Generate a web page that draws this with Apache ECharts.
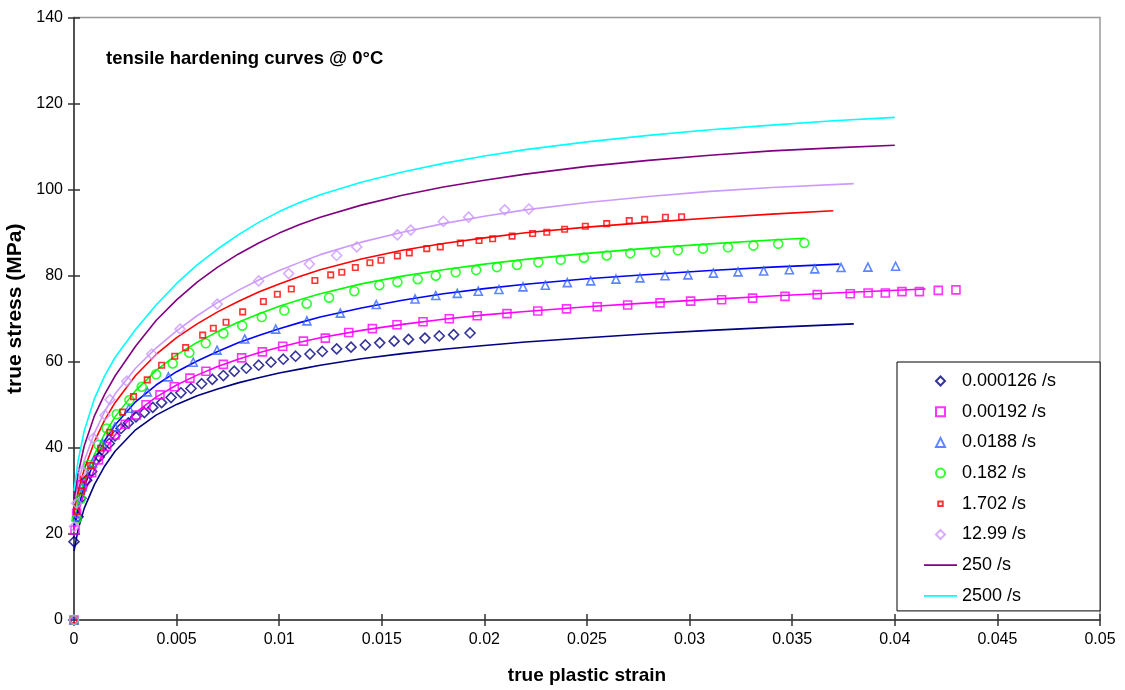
<!DOCTYPE html>
<html>
<head>
<meta charset="utf-8">
<script src="https://cdn.jsdelivr.net/npm/echarts@6/dist/echarts.min.js"></script>
<style>
html,body{margin:0;padding:0;background:#fff;}
#chart{width:1125px;height:690px;}
</style>
</head>
<body>
<div id="chart"></div>
<script>
// ---- axes ----
const xTicks = { min: 0, max: 0.05, step: 0.005 };
const yTicks = { min: 0, max: 140, step: 20 };
const legendNames = ['0.000126 /s','0.00192 /s','0.0188 /s','0.182 /s','1.702 /s','12.99 /s','250 /s','2500 /s'];

// ---- measured points [true plastic strain, true stress MPa] ----
const pts000126 = [[0,0],[0,18.2],[0.0002,24],[0.00034,28.3],[0.00062,32.5],[0.00086,34.5],[0.00123,37.9],[0.00143,39.1],[0.00172,41.0],[0.0020,42.8],[0.00229,44.5],[0.00265,45.8],[0.00302,47.2],[0.00343,48.2],[0.00384,49.4],[0.00427,50.5],[0.00473,51.7],[0.00521,52.8],[0.0057,53.8],[0.00622,54.9],[0.00674,55.9],[0.00728,56.8],[0.00781,57.8],[0.0084,58.5],[0.009,59.2],[0.0096,59.9],[0.0102,60.6],[0.0108,61.3],[0.0115,61.8],[0.0121,62.4],[0.0128,63.0],[0.0135,63.4],[0.0142,63.9],[0.0149,64.4],[0.0156,64.8],[0.0163,65.2],[0.0171,65.5],[0.0178,66.0],[0.0185,66.3],[0.0193,66.7]];
const pts00192 = [[0,0],[0.00005,20.9],[0.00013,24.8],[0.00037,31.4],[0.00086,34.2],[0.00119,37.2],[0.00159,40.3],[0.0020,43.0],[0.0025,45.5],[0.00302,47.6],[0.00351,50.0],[0.00419,52.3],[0.00489,54.2],[0.00565,56.2],[0.00643,57.8],[0.00728,59.4],[0.00817,60.9],[0.00918,62.3],[0.01017,63.6],[0.01118,64.8],[0.01225,65.5],[0.01339,66.8],[0.01454,67.7],[0.01574,68.6],[0.01701,69.3],[0.01829,70.0],[0.01965,70.7],[0.0211,71.2],[0.0226,71.8],[0.0240,72.3],[0.0255,72.8],[0.02698,73.2],[0.02856,73.7],[0.03005,74.1],[0.03156,74.4],[0.03307,74.8],[0.03465,75.2],[0.03622,75.6],[0.03783,75.8],[0.0387,76.0],[0.03954,76.0],[0.04035,76.3],[0.0412,76.3],[0.04212,76.6],[0.04298,76.7]];
const pts0188 = [[0,0],[0.0001,24],[0.0004,31],[0.0009,36.5],[0.0014,41],[0.002,44.9],[0.00268,49.2],[0.00357,53.0],[0.0046,56.5],[0.00581,59.9],[0.00697,62.7],[0.00832,65.3],[0.00983,67.6],[0.01135,69.5],[0.01298,71.3],[0.01473,73.3],[0.01662,74.6],[0.01763,75.4],[0.01868,75.9],[0.0197,76.4],[0.02071,76.8],[0.02188,77.4],[0.02297,77.8],[0.02404,78.4],[0.02518,78.8],[0.02641,79.2],[0.02758,79.5],[0.0288,80.0],[0.02992,80.2],[0.03116,80.6],[0.03236,80.9],[0.03361,81.1],[0.03486,81.4],[0.0361,81.6],[0.03738,81.9],[0.03869,82.0],[0.04004,82.2]];
const pts182 = [[0,0],[0.00013,23.5],[0.00033,28.1],[0.0007,36],[0.00119,40.7],[0.00159,44.5],[0.00208,47.8],[0.0027,51.1],[0.0033,54.2],[0.004,57.1],[0.00481,59.6],[0.00562,62.1],[0.00642,64.3],[0.00728,66.6],[0.0082,68.4],[0.00915,70.4],[0.01025,71.9],[0.01134,73.5],[0.01243,74.9],[0.01366,76.4],[0.01488,77.8],[0.01576,78.5],[0.01675,79.2],[0.01763,80.0],[0.0186,80.8],[0.0196,81.3],[0.02061,82.0],[0.02159,82.5],[0.02263,83.1],[0.02372,83.7],[0.02485,84.2],[0.02596,84.7],[0.02711,85.2],[0.02833,85.5],[0.02943,85.9],[0.03065,86.3],[0.03187,86.6],[0.03311,87.0],[0.03432,87.4],[0.03559,87.6]];
const pts1702 = [[0,0],[0.00013,25.2],[0.00037,30.0],[0.00045,32.7],[0.00081,35.9],[0.0013,39.9],[0.00175,43.6],[0.00237,48.3],[0.0029,51.9],[0.00357,55.8],[0.00427,59.2],[0.00491,61.3],[0.00544,63.3],[0.00627,66.2],[0.00679,67.8],[0.00741,69.2],[0.00822,71.6],[0.00923,74.0],[0.00991,75.7],[0.01059,76.9],[0.01174,78.9],[0.01251,80.2],[0.01305,80.8],[0.01371,81.9],[0.01442,83.0],[0.01496,83.6],[0.01576,84.6],[0.01634,85.3],[0.01719,86.3],[0.01785,86.7],[0.01883,87.6],[0.01974,88.2],[0.0204,88.6],[0.02135,89.2],[0.02235,89.8],[0.02304,90.1],[0.02391,90.8],[0.02492,91.5],[0.02596,92.1],[0.02706,92.8],[0.02781,93.1],[0.02882,93.6],[0.02961,93.7]];
const pts1299 = [[0,0],[0.00002,21.7],[0.00013,27.1],[0.0004,34.5],[0.00094,42.2],[0.00151,47.6],[0.00175,51.2],[0.00257,55.5],[0.00379,61.8],[0.00517,67.6],[0.00698,73.4],[0.009,78.8],[0.01046,80.5],[0.01147,82.7],[0.0128,84.7],[0.01378,86.7],[0.01576,89.5],[0.01641,90.6],[0.018,92.6],[0.01923,93.6],[0.02099,95.3],[0.02217,95.5]];

// ---- fitted hardening curves [strain, stress] ----
const fit000126 = [[0,16],[0.0002,21],[0.0005,26],[0.001,31.5],[0.0015,35.8],[0.002,39.2],[0.003,44.2],[0.004,47.6],[0.005,50.1],[0.006,52.1],[0.007,53.7],[0.008,55.1],[0.009,56.3],[0.010,57.4],[0.011,58.3],[0.012,59.2],[0.014,60.7],[0.016,61.9],[0.018,62.9],[0.020,63.8],[0.022,64.6],[0.025,65.6],[0.028,66.5],[0.031,67.3],[0.034,68.0],[0.038,68.8]];
const fit00192 = [[0,21],[0.0002,25],[0.0005,29.5],[0.001,35],[0.0015,39.5],[0.002,43.0],[0.003,48.2],[0.004,51.8],[0.005,54.6],[0.006,56.9],[0.007,58.9],[0.008,60.6],[0.009,62.1],[0.010,63.4],[0.011,64.55],[0.012,65.6],[0.014,67.3],[0.016,68.7],[0.018,69.9],[0.020,70.9],[0.022,71.7],[0.025,72.8],[0.028,73.7],[0.031,74.5],[0.034,75.3],[0.037,76.0],[0.0415,76.9]];
const fit0188 = [[0,22],[0.0002,26],[0.0005,31],[0.001,37],[0.0015,41.7],[0.002,45.3],[0.003,50.7],[0.004,54.6],[0.005,57.7],[0.006,60.2],[0.007,62.4],[0.008,64.4],[0.009,66.1],[0.010,67.7],[0.011,69.1],[0.012,70.4],[0.014,72.5],[0.016,74.3],[0.018,75.8],[0.020,77.0],[0.022,78.0],[0.025,79.3],[0.028,80.3],[0.031,81.2],[0.034,82.0],[0.0373,82.7]];
const fit182 = [[0,23],[0.0002,27.5],[0.0005,32.5],[0.001,38.5],[0.0015,43.3],[0.002,47.2],[0.003,53.3],[0.004,58.0],[0.005,61.6],[0.006,64.5],[0.007,67.0],[0.008,69.2],[0.009,71.1],[0.010,72.9],[0.011,74.4],[0.012,75.8],[0.014,78.1],[0.016,79.9],[0.018,81.4],[0.020,82.7],[0.022,83.8],[0.025,85.2],[0.028,86.4],[0.031,87.4],[0.034,88.3],[0.0356,88.7]];
const fit1702 = [[0,25],[0.0002,30],[0.0005,35],[0.001,41.5],[0.0015,46.5],[0.002,50.5],[0.003,56.8],[0.004,61.7],[0.005,65.6],[0.006,68.8],[0.007,71.6],[0.008,74.0],[0.009,76.2],[0.010,78.1],[0.011,79.8],[0.012,81.4],[0.014,83.9],[0.016,85.9],[0.018,87.5],[0.020,88.8],[0.022,90.0],[0.025,91.3],[0.028,92.4],[0.031,93.4],[0.034,94.3],[0.037,95.1]];
const fit1299 = [[0,27],[0.0002,32],[0.0005,37],[0.001,43.5],[0.0015,48.5],[0.002,52.5],[0.003,58.5],[0.004,63.2],[0.005,67.2],[0.006,70.7],[0.007,73.8],[0.008,76.6],[0.009,79.0],[0.010,81.2],[0.011,83.1],[0.012,84.9],[0.014,87.8],[0.016,90.1],[0.018,92.1],[0.020,93.8],[0.022,95.3],[0.025,97.0],[0.028,98.4],[0.031,99.6],[0.034,100.5],[0.038,101.4]];
const fit250 = [[0,28],[0.0002,34],[0.0005,40.5],[0.001,47.5],[0.0015,52.5],[0.002,56.7],[0.003,63.6],[0.004,69.6],[0.005,74.4],[0.006,78.5],[0.007,82.0],[0.008,85.0],[0.009,87.6],[0.010,89.9],[0.011,91.9],[0.012,93.6],[0.014,96.4],[0.016,98.7],[0.018,100.6],[0.020,102.2],[0.022,103.6],[0.025,105.4],[0.028,106.8],[0.031,108.0],[0.034,109.0],[0.037,109.7],[0.040,110.3]];
const fit2500 = [[0,30],[0.0002,37],[0.0005,44],[0.001,51.5],[0.0015,56.8],[0.002,61.0],[0.003,67.5],[0.004,73.2],[0.005,78.2],[0.006,82.5],[0.007,86.2],[0.008,89.5],[0.009,92.4],[0.010,94.9],[0.011,97.0],[0.012,98.8],[0.014,101.7],[0.016,104.1],[0.018,106.1],[0.020,107.8],[0.022,109.3],[0.025,111.1],[0.028,112.6],[0.031,113.9],[0.034,115.0],[0.037,116.0],[0.040,116.8]];

// ---- legend icons ----
const ICON = {
  diamond: 'path://M5,0L10,5L5,10L0,5Z',
  square: 'path://M0,0L10,0L10,10L0,10Z',
  smallSquare: 'path://M0,0L0,0M16,16L16,16M4,4L12,4L12,12L4,12Z',
  triangle: 'path://M5,0L10,10L0,10Z',
  circle: 'path://M0,5A5,5,0,1,0,10,5A5,5,0,1,0,0,5Z',
  line: 'path://M0,0L33,0L33,1.8L0,1.8Z'
};
const legendIcons = [ICON.diamond, ICON.square, ICON.triangle, ICON.circle, ICON.smallSquare, ICON.diamond, ICON.line, ICON.line];

// ---- chart ----
const FONT = '"Liberation Sans", Arial, sans-serif';
const chart = echarts.init(document.getElementById('chart'), null, {renderer: 'canvas'});

function scatter(name, data, symbol, size, color) {
  return {
    name, type: 'scatter', data, symbol, symbolSize: size,
    itemStyle: { color: 'rgba(255,255,255,0)', borderColor: color, borderWidth: 1.6 },
    emphasis: { disabled: true }, z: 3
  };
}
function fit(name, data, color) {
  return {
    name, type: 'line', data, showSymbol: false, symbol: 'none',
    smooth: false,
    lineStyle: { color, width: 1.6, join: 'round' }, itemStyle: { color },
    emphasis: { disabled: true }, z: 2
  };
}

const tickStyle = { color: '#333', width: 1.5 };
const option = {
  animation: false,
  backgroundColor: '#fff',
  title: {
    text: 'tensile hardening curves @ 0°C',
    left: 101, top: 44,
    textStyle: { fontSize: 18.5, fontWeight: 'bold', color: '#000', fontFamily: FONT }
  },
  grid: { left: 74, right: 25, top: 17.5, bottom: 70, show: true, borderColor: '#999', borderWidth: 1.5,
          containLabel: false, outerBoundsMode: 'none' },
  legend: {
    data: legendNames.map((n, i) => ({ name: n, icon: legendIcons[i] })),
    orient: 'vertical',
    left: 897, top: 362,
    padding: [10, 44, 6, 27],
    itemWidth: 33, itemHeight: 9, itemGap: 12.7,
    symbolKeepAspect: true,
    borderColor: '#000', borderWidth: 1, backgroundColor: '#fff',
    textStyle: { fontSize: 18, lineHeight: 18, color: '#000', fontFamily: FONT },
    selectedMode: false
  },
  xAxis: [
    {
      type: 'value', min: xTicks.min, max: xTicks.max, interval: xTicks.step,
      name: 'true plastic strain', nameLocation: 'middle', nameGap: 46,
      nameTextStyle: { color: '#000', fontSize: 19, fontWeight: 'bold', fontFamily: FONT },
      axisLine: { show: true, onZero: false, lineStyle: tickStyle },
      splitLine: { show: false },
      axisTick: { show: true, inside: false, length: 6, lineStyle: tickStyle },
      axisLabel: { color: '#000', fontSize: 16, fontFamily: FONT, margin: 12,
        formatter: v => v === 0 ? '0' : String(+v.toFixed(3)) }
    },
    {
      type: 'value', min: xTicks.min, max: xTicks.max, interval: xTicks.step, position: 'bottom', offset: 0,
      axisLine: { show: false }, axisLabel: { show: false }, splitLine: { show: false },
      axisTick: { show: true, inside: true, length: 6, lineStyle: tickStyle }
    }
  ],
  yAxis: [
    {
      type: 'value', min: yTicks.min, max: yTicks.max, interval: yTicks.step,
      name: 'true stress (MPa)', nameLocation: 'middle', nameGap: 44,
      nameTextStyle: { color: '#000', fontSize: 21, fontWeight: 'bold', fontFamily: FONT, padding: [0, 0, 0, 20] },
      axisLine: { show: true, onZero: false, lineStyle: tickStyle },
      splitLine: { show: false },
      axisTick: { show: true, inside: false, length: 6, lineStyle: tickStyle },
      axisLabel: { color: '#000', fontSize: 16, fontFamily: FONT, margin: 11 }
    },
    {
      type: 'value', min: yTicks.min, max: yTicks.max, interval: yTicks.step, position: 'left', offset: 0,
      axisLine: { show: false }, axisLabel: { show: false }, splitLine: { show: false },
      axisTick: { show: true, inside: true, length: 6, lineStyle: tickStyle }
    }
  ],
  series: [
    fit('fit 0.000126', fit000126, '#000080'),
    fit('fit 0.00192', fit00192, '#FF00FF'),
    fit('fit 0.0188', fit0188, '#0000FF'),
    fit('fit 0.182', fit182, '#00FF00'),
    fit('fit 1.702', fit1702, '#FF0000'),
    fit('fit 12.99', fit1299, '#CC99FF'),
    fit('250 /s', fit250, '#800080'),
    fit('2500 /s', fit2500, '#00FFFF'),
    scatter('0.000126 /s', pts000126, 'diamond', 10, '#000080'),
    scatter('0.00192 /s', pts00192, 'rect', 8, '#FF00FF'),
    scatter('0.0188 /s', pts0188, 'triangle', 8, '#3366FF'),
    scatter('0.182 /s', pts182, 'circle', 9, '#00FF00'),
    scatter('1.702 /s', pts1702, 'rect', 5.5, '#FF0000'),
    scatter('12.99 /s', pts1299, 'diamond', 10, '#CC99FF')
  ]
};
chart.setOption(option);
</script>
</body>
</html>
